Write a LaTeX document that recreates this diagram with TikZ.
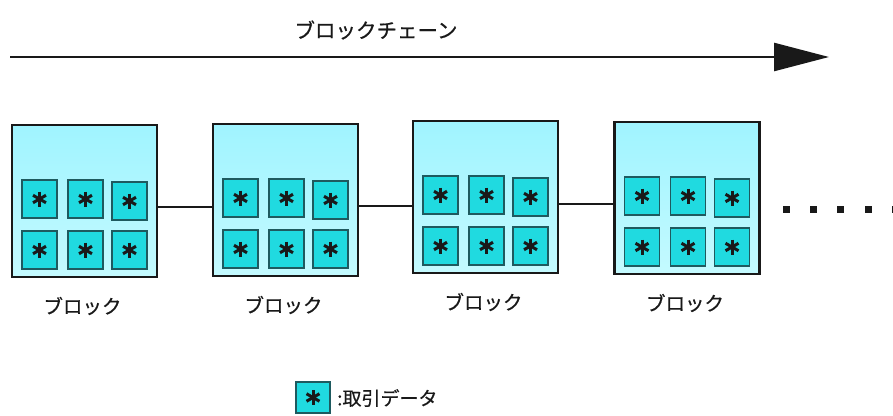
\documentclass[tikz,border=0pt]{standalone}
\usepackage{fontspec}
\setmainfont{Noto Sans CJK JP}[FakeBold=0.6]
\usetikzlibrary{arrows.meta}
\definecolor{blkfillA}{RGB}{160,244,255}
\definecolor{blkfillB}{RGB}{196,250,255}
\definecolor{txfill}{RGB}{32,218,224}
\definecolor{txedge}{RGB}{30,90,95}
\definecolor{ink}{RGB}{25,25,25}
\tikzset{
  x=1pt,y=-1pt,
  blockbox/.style={draw=ink, line width=2.6pt, top color=blkfillA, bottom color=blkfillB,
    minimum width=145pt, minimum height=152pt, inner sep=0pt},
  txbox/.style={draw=txedge, line width=1.6pt, fill=txfill, inner sep=0pt,
    minimum width=35pt, minimum height=38pt,
    path picture={\foreach \a in {90,30,150}{\draw[ink,line width=3pt]
      ([shift={(\a:7.5pt)}]path picture bounding box.center) --
      ([shift={(\a+180:7.5pt)}]path picture bounding box.center);}}},
  legbox/.style={txbox, minimum width=34pt, minimum height=31pt},
  lbl/.style={font=\fontsize{19.5pt}{22pt}\selectfont, text=ink, inner sep=0pt},
  link/.style={draw=ink, line width=2.4pt},
  dotsq/.style={fill=ink, minimum size=7pt, inner sep=0pt},
}
\newcommand\chainblock[3]{%
  \node[blockbox] (#1) at (#2,#3) {};
  \node[txbox] (#1a) at (#2-45,#3-2) {};
  \node[txbox] (#1b) at (#2+1,#3-2) {};
  \node[txbox] (#1c) at (#2+45,#3) {};
  \node[txbox] (#1d) at (#2-45,#3+49) {};
  \node[txbox] (#1e) at (#2+1,#3+49) {};
  \node[txbox] (#1f) at (#2+45,#3+49) {};
  \node[lbl] (#1l) at (#2-2,#3+105) {ブロック};
}
\begin{document}
\begin{tikzpicture}
\useasboundingbox (0,0) rectangle (893,415);
% title arrow
\coordinate (as) at (10,57);
\coordinate (ae) at (829,57);
\draw[ink, line width=2.5pt, -{Triangle[length=55pt,width=28pt]}] (as) -- (ae);
\node[lbl, font=\fontsize{20.5pt}{23pt}\selectfont] (title) at (376,30) {ブロックチェーン};
% blocks
\chainblock{b1}{84.5}{201}
\chainblock{b2}{285.5}{200}
\chainblock{b3}{485.5}{197}
\chainblock{b4}{687}{198}
% links
\draw[link] ([yshift=-6pt]b1.east) -- ([yshift=-6pt]b1.east -| b2.west);
\draw[link] ([yshift=-6pt]b2.east) -- ([yshift=-6pt]b2.east -| b3.west);
\draw[link] ([yshift=-7pt]b3.east) -- ([yshift=-7pt]b3.east -| b4.west);
% continuation dots
\node[dotsq] (d1) at (786,209.5) {};
\node[dotsq] (d2) at (813,209.5) {};
\node[dotsq] (d3) at (840,209.5) {};
\node[dotsq] (d4) at (868,209.5) {};
\node[dotsq] (d5) at (895,209.5) {};
% legend
\node[legbox] (leg) at (313,397.5) {};
\node[lbl, font=\fontsize{19pt}{22pt}\selectfont, anchor=west] (legt) at (337,398) {:取引データ};
\end{tikzpicture}
\end{document}
